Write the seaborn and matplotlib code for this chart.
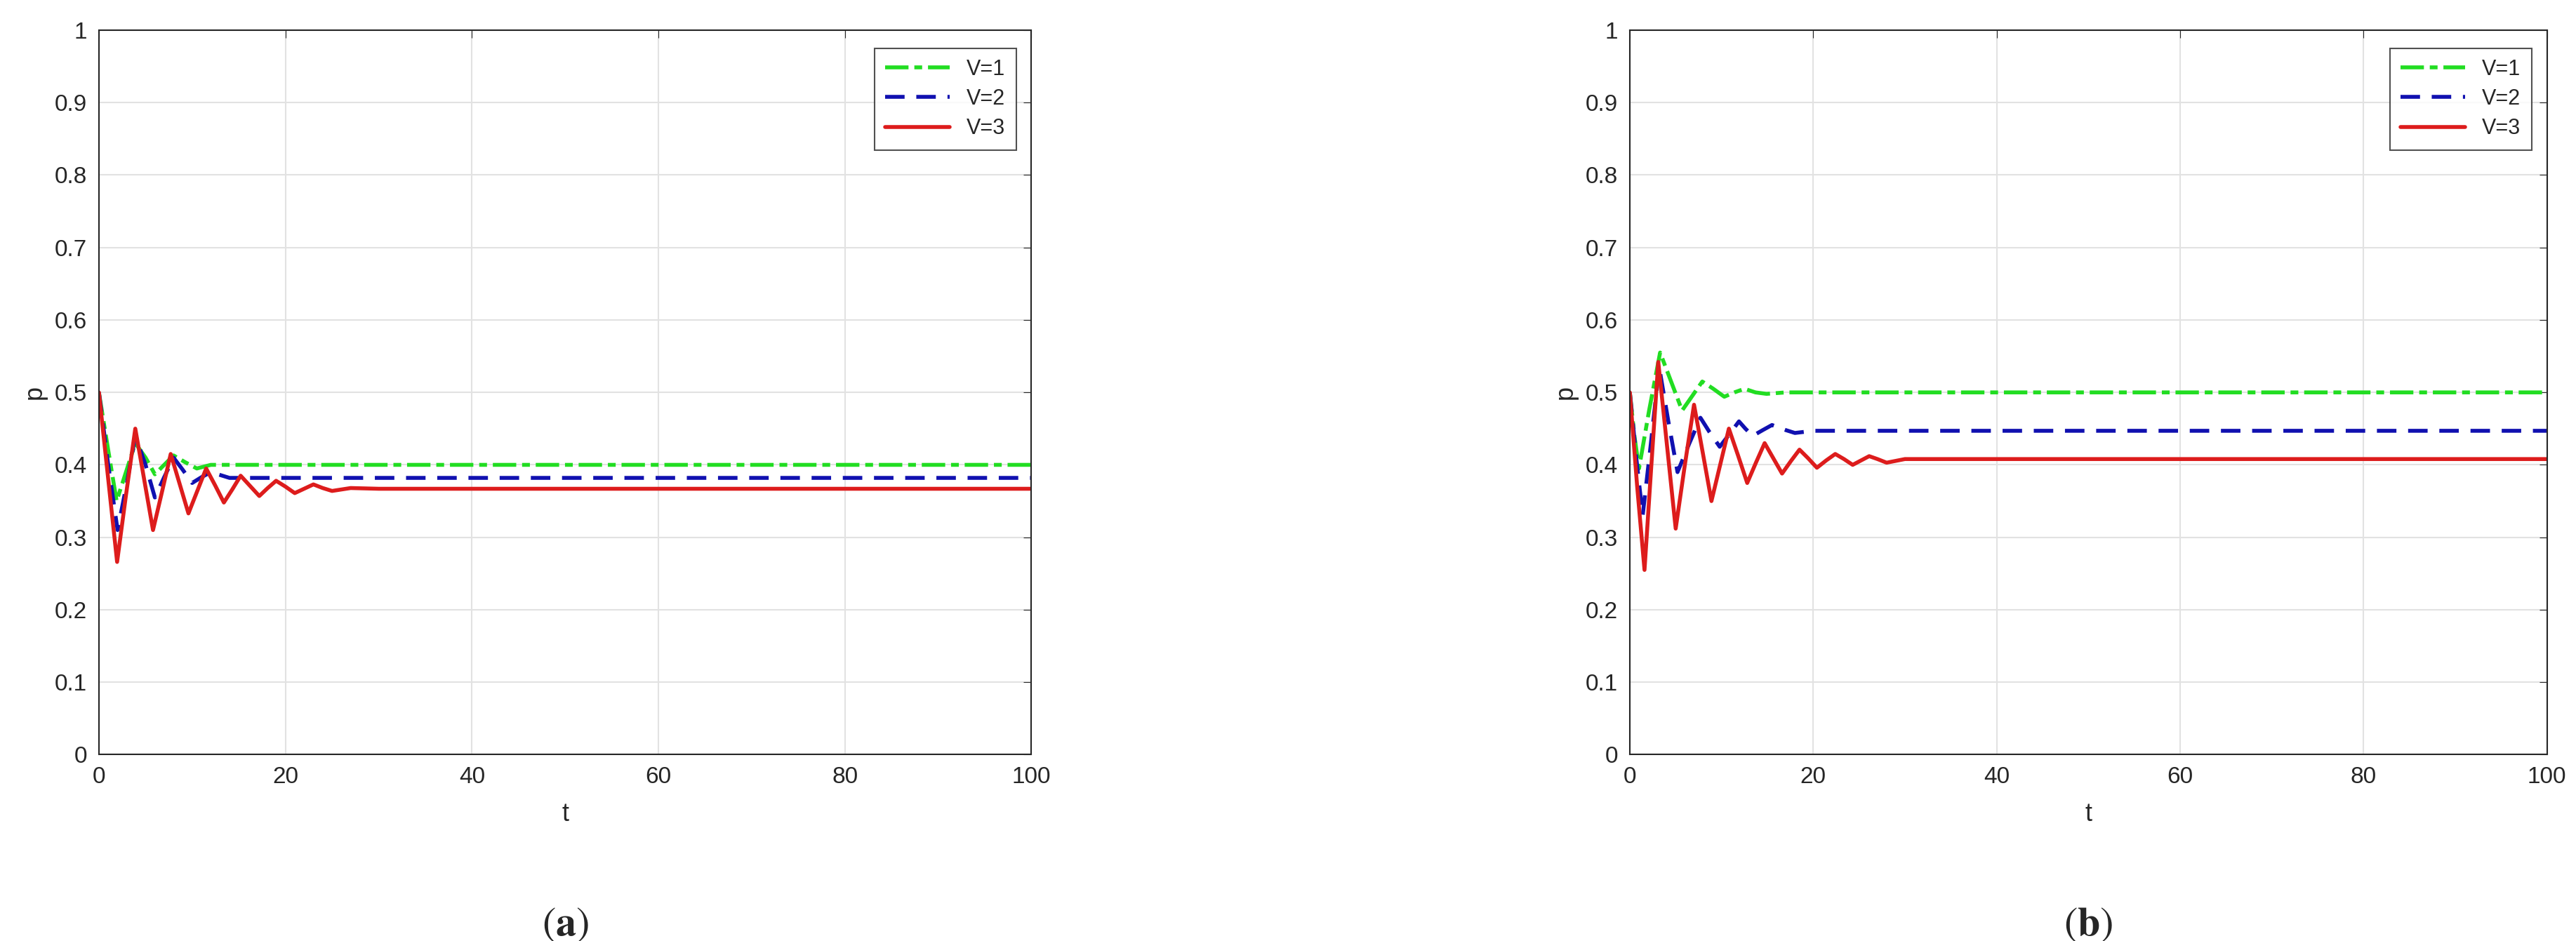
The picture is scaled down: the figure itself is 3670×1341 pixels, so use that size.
import numpy as np
import pandas as pd
import matplotlib
matplotlib.use("Agg")
import matplotlib.pyplot as plt
import seaborn as sns

sns.set_style("white")
plt.rcParams['font.family'] = ['Liberation Sans', 'DejaVu Sans']
plt.rcParams['mathtext.fontset'] = 'stix'

# ---- data ----
labels = ["V=1", "V=2", "V=3"]

a_t_v1 = [0, 1, 1.9, 2.9, 3.9, 5, 6, 7, 8, 9.2, 10.5, 12, 14, 100]
a_p_v1 = [.5, .42, .35, .39, .43, .41, .387, .40, .413, .404, .395, .40, .40, .40]
a_t_v2 = [0, 1, 2, 3, 3.9, 5, 6, 7, 8, 9, 10, 11, 12, 14, 100]
a_p_v2 = [.5, .40, .31, .375, .44, .40, .355, .383, .41, .393, .375, .383, .39, .382, .382]
a_t_v3 = [0, 1, 1.95, 2.9, 3.9, 4.85, 5.8, 6.75, 7.7, 8.65, 9.6, 10.55, 11.5, 12.45, 13.4,
          14.3, 15.2, 16.2, 17.2, 18.1, 19, 20, 21, 22, 23, 24, 25, 27, 30, 100]
a_p_v3 = [.5, .38, .266, .358, .45, .38, .31, .362, .415, .374, .333, .364, .395, .372, .348,
          .366, .385, .371, .357, .368, .378, .37, .361, .367, .373, .368, .364, .368, .367, .367]

b_t_v1 = [0, .5, 1, 2.1, 3.3, 4.5, 5.7, 6.8, 7.9, 9.1, 10.3, 11.4, 12.5, 13.7, 14.9, 17, 100]
b_p_v1 = [.5, .44, .395, .475, .555, .515, .475, .495, .515, .505, .494, .50, .505, .50, .498, .50, .50]
b_t_v2 = [0, .7, 1.4, 2.3, 3.2, 4.2, 5.2, 6.5, 7.7, 8.7, 9.8, 10.9, 11.9, 12.6, 13.4, 14.5,
          15.5, 17, 18, 20, 100]
b_p_v2 = [.5, .41, .33, .43, .535, .46, .39, .43, .465, .445, .425, .443, .46, .45, .44, .448,
          .455, .448, .444, .447, .447]
b_t_v3 = [0, .8, 1.6, 2.35, 3.1, 4.05, 5, 6, 7, 7.95, 8.9, 9.85, 10.8, 11.8, 12.8, 13.75, 14.7,
          15.65, 16.6, 17.55, 18.5, 19.45, 20.4, 21.4, 22.4, 23.35, 24.3, 25.2, 26.1, 27, 28, 30, 100]
b_p_v3 = [.5, .37, .255, .4, .542, .427, .312, .40, .483, .417, .35, .40, .45, .413, .375, .403,
          .43, .409, .388, .405, .421, .409, .396, .406, .415, .408, .40, .406, .412, .408, .403,
          .408, .408]

panel_labels = ["a", "b"]
x_ticks = [0, 20, 40, 60, 80, 100]
y_ticks = [0, 0.1, 0.2, 0.3, 0.4, 0.5, 0.6, 0.7, 0.8, 0.9, 1]
y_ticklabels = ["0", "0.1", "0.2", "0.3", "0.4", "0.5", "0.6", "0.7", "0.8", "0.9", "1"]

colors = ["#22dd22", "#1010b0", "#dd1c1c"]
styles = [(0, (6, 1.5, 2, 1.5)), (0, (5, 3)), "-"]

fig = plt.figure(figsize=(36.7, 13.41), dpi=100)
axes = [fig.add_axes([0.0384, 0.198, 0.362, 0.770]),
        fig.add_axes([0.6327, 0.198, 0.356, 0.770])]

panels = [[(a_t_v1, a_p_v1), (a_t_v2, a_p_v2), (a_t_v3, a_p_v3)],
          [(b_t_v1, b_p_v1), (b_t_v2, b_p_v2), (b_t_v3, b_p_v3)]]

for ax, series, plabel in zip(axes, panels, panel_labels):
    for (t, p), lab, c, ls in zip(series, labels, colors, styles):
        sns.lineplot(x=t, y=p, ax=ax, color=c, linestyle=ls, linewidth=4, label=lab,
                     estimator=None, sort=False)
    ax.set_xlim(0, 100)
    ax.set_ylim(0, 1)
    ax.set_xticks(x_ticks)
    ax.set_xticklabels([str(v) for v in x_ticks])
    ax.set_yticks(y_ticks)
    ax.set_yticklabels(y_ticklabels)
    ax.grid(True, color="#e2e2e2", linewidth=1.5)
    ax.tick_params(direction="in", length=8, labelsize=24, colors="#262626",
                   top=True, right=True, pad=12)
    for s in ax.spines.values():
        s.set_color("#262626")
        s.set_linewidth(1.5)
    ax.set_xlabel("t", fontsize=26, color="#262626", labelpad=14)
    ax.set_ylabel("p", fontsize=26, color="#262626", labelpad=8)
    leg = ax.legend(loc="upper right", fontsize=22, frameon=True, fancybox=False,
                    edgecolor="#262626", handlelength=3.0, borderpad=0.5,
                    labelspacing=0.4, bbox_to_anchor=(0.995, 0.99))
    leg.get_frame().set_linewidth(1.5)
    ax.text(0.5, -0.235, r"$(\mathbf{" + plabel + r"})$", transform=ax.transAxes,
            ha="center", va="center", fontsize=42)

fig.savefig("out.png", dpi=100)
